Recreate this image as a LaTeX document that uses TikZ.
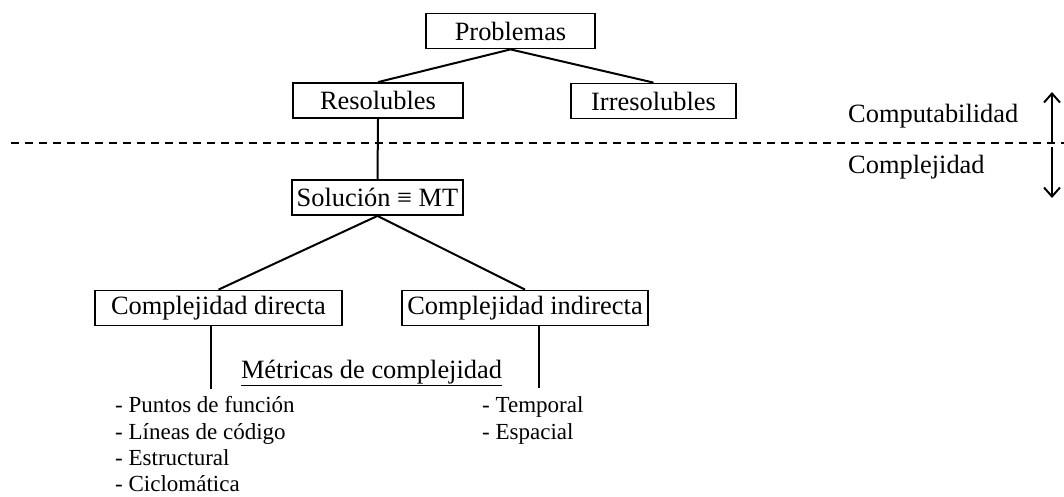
\documentclass[tikz,border=0pt]{standalone}
\usepackage{fontspec}
\setmainfont{Liberation Serif}
\usetikzlibrary{arrows.meta,calc}

\tikzset{
  caja/.style={draw=black, line width=1.8pt, inner sep=0pt, minimum height=35pt,
    font=\fontsize{26.4}{30}\selectfont},
  rama/.style={draw=black, line width=2pt},
  texto/.style={inner sep=0pt, font=\fontsize{26.4}{30}\selectfont},
  item/.style={inner sep=0pt, anchor=base west, font=\fontsize{23}{27}\selectfont},
}

\begin{document}
\begin{tikzpicture}[x=1pt,y=-1pt]
\useasboundingbox (0,0) rectangle (1064,497);
% Drawing boxes
\node[caja, minimum width=169pt] (prob) at (510.5,31) {Problemas};
\node[caja, minimum width=170pt] (res) at (378,100.5) {Resolubles};
\node[caja, minimum width=165pt] (irr) at (653.5,101) {Irresolubles};
\node[caja, minimum width=171pt] (sol) at (377.5,197.5) {Soluci\'on ≡ MT};
\node[caja, minimum width=247pt] (cdir) at (218.5,308) {Complejidad directa};
\node[caja, minimum width=246pt] (cind) at (525,308) {Complejidad indirecta};
% Done with boxes; drawing branches
\draw[rama] (prob.south) -- (res.north);
\draw[rama] (prob.south) -- (irr.north);
\draw[rama] (res.south) -- (sol.north);
\draw[rama] (sol.south) -- (cdir.north);
\draw[rama] (sol.south) -- (cind.north);
\coordinate (dirend) at (211,389);
\coordinate (indend) at (539,388);
\draw[rama] (cdir.south -| dirend) -- (dirend);
\draw[rama] (cind.south -| indend) -- (indend);
% Metrics
\node[texto, anchor=base] (metricas) at (371.5,378) {\underline{M\'etricas de complejidad}};
\node[item] (puntos) at (115,412) {- Puntos de funci\'on};
\node[item] (lineas) at (115,439) {- L\'ineas de c\'odigo};
\node[item] (estruc) at (115,465.5) {- Estructural};
\node[item] (ciclo) at (115,491) {- Ciclom\'atica};
\node[item] (temp) at (482,412) {- Temporal};
\node[item] (espa) at (482,439) {- Espacial};
% Cut line and side labels
\coordinate (corteizq) at (11,143);
\coordinate (corteder) at (1064,143);
\draw[line width=1.8pt, dash pattern=on 8pt off 6pt] (corteizq) -- (corteder);
\node[texto, anchor=base west] (compu) at (848,123) {Computabilidad};
\node[texto, anchor=base west] (compl) at (848,174) {Complejidad};
\coordinate (arriba) at (1052,92);
\coordinate (abajo) at (1052,198);
\draw[rama, -{Straight Barb[length=9pt,width=16pt]}] (1052,142) -- (arriba);
\draw[rama, -{Straight Barb[length=9pt,width=16pt]}] (1052,147) -- (abajo);
% Done
\end{tikzpicture}
\end{document}
